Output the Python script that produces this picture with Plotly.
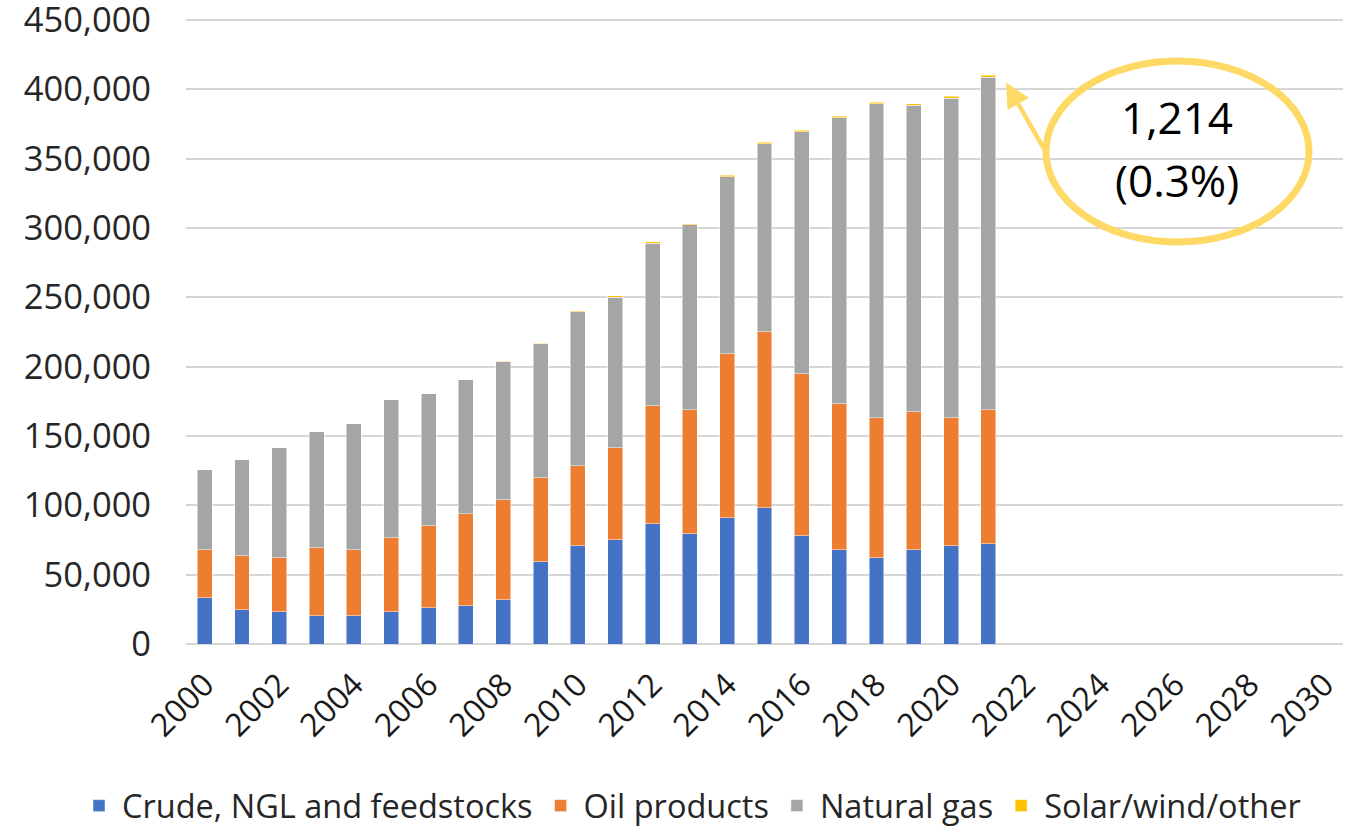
import plotly.graph_objects as go

years = list(range(2000, 2022))
crude = [33.3, 24.7, 23.2, 20.3, 20.3, 23.2, 26.1, 27.5, 31.9, 59.3, 70.8,
         75.1, 86.7, 79.5, 91.0, 98.2, 78.0, 67.9, 62.2, 67.9, 70.8, 72.3]
oil = [34.6, 38.9, 39.0, 49.1, 47.6, 53.4, 59.1, 66.4, 72.1, 60.6, 57.7,
       66.4, 85.1, 89.4, 118.3, 127.0, 116.9, 105.3, 100.9, 99.6, 92.3, 96.6]
gas = [57.7, 69.2, 79.3, 83.6, 90.9, 99.5, 95.2, 96.6, 99.5, 96.6, 111.1,
       108.6, 117.2, 133.3, 127.8, 135.7, 174.4, 206.3, 226.6, 221.0, 230.6, 239.9]
solar = [0.1, 0.1, 0.1, 0.1, 0.1, 0.2, 0.2, 0.2, 0.3, 0.4, 0.9,
         1.0, 1.0, 1.0, 1.0, 1.0, 1.1, 1.1, 1.1, 1.1, 1.2, 1.214]
# thousands -> units
crude = [v * 1000 for v in crude]
oil = [v * 1000 for v in oil]
gas = [v * 1000 for v in gas]
solar = [v * 1000 for v in solar]

names = ["Crude, NGL and feedstocks", "Oil products", "Natural gas", "Solar/wind/other"]
colors = ["#4472C4", "#ED7D31", "#A5A5A5", "#FFC000"]
series = [crude, oil, gas, solar]

tick_years = list(range(2000, 2031, 2))
y_ticks = list(range(0, 450001, 50000))

FONT = "Open Sans"
W, H = 1354, 835
L, R, T, B = 186, 11, 17, 191

def px_x(p):
    return (p - L) / (W - L - R)

def px_y(p):
    return (H - B - p) / (H - B - T)

fig = go.Figure()
for name, col, vals in zip(names, colors, series):
    fig.add_trace(go.Bar(
        x=years, y=vals, name=name,
        marker=dict(color=col, line=dict(color="rgba(255,255,255,0.6)", width=0.8)),
    ))

fig.update_layout(
    barmode="stack",
    bargap=0.6,
    width=W, height=H,
    margin=dict(l=L, r=R, t=T, b=B, autoexpand=False),
    paper_bgcolor="white", plot_bgcolor="white",
    font=dict(family=FONT, color="#262626"),
    legend=dict(orientation="h", x=px_x(76), xanchor="left",
                y=px_y(834), yanchor="bottom",
                font=dict(size=32.5, color="#262626"), traceorder="normal",
                itemwidth=36),
    showlegend=True,
)

fig.update_xaxes(
    range=[1999.5, 2030.5], tickmode="array", tickvals=tick_years,
    ticktext=[str(t) for t in tick_years], tickangle=-45,
    tickfont=dict(size=32, color="#1a1a1a"), showgrid=False, zeroline=False,
    showline=False, ticks="outside", ticklen=8, tickcolor="rgba(0,0,0,0)",
    automargin=False, ticklabeloverflow="allow",
)
fig.update_yaxes(
    range=[0, 452200], tickmode="array", tickvals=y_ticks,
    ticktext=[f"{v:,}" for v in y_ticks],
    tickfont=dict(size=34.5, color="#262626"),
    showgrid=True, gridcolor="#D6D6D6", gridwidth=2,
    zeroline=True, zerolinecolor="#D6D6D6", zerolinewidth=2,
    showline=False, ticks="outside", ticklen=27, tickcolor="rgba(0,0,0,0)",
    automargin=False, ticklabeloverflow="allow",
)

# callout ellipse
fig.add_shape(type="circle", xref="paper", yref="paper",
              x0=px_x(1046), x1=px_x(1309), y0=px_y(242), y1=px_y(61),
              line=dict(color="#FFD966", width=7))
# arrow pointing to the 2021 bar top
fig.add_annotation(x=2021.47, y=405000, xref="x", yref="y", text="",
                   showarrow=True, ax=40, ay=70, arrowhead=2, arrowsize=1.1,
                   arrowwidth=4.5, arrowcolor="#FFD966")
fig.add_annotation(x=px_x(1177), y=px_y(117), xref="paper", yref="paper",
                   xanchor="center", yanchor="middle",
                   text="1,214", showarrow=False,
                   font=dict(size=44, color="black", family=FONT))
fig.add_annotation(x=px_x(1177), y=px_y(180), xref="paper", yref="paper",
                   xanchor="center", yanchor="middle",
                   text="(0.3%)", showarrow=False,
                   font=dict(size=44, color="black", family=FONT))

fig.write_html("out.html")
